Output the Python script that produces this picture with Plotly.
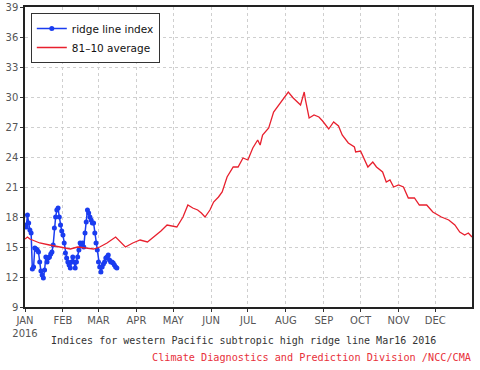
import plotly.graph_objects as go
import pandas as pd

# Observed ridge line index (daily, from 2016-01-01)
ridge_start = "2016-01-01"
ridge_values = [
    17.2, 17.0, 18.2, 17.4, 16.7, 16.4, 12.8, 13.0, 14.9, 14.8,
    14.7, 14.5, 13.5, 12.6, 12.2, 11.9, 12.7, 14.0, 13.5, 13.9,
    14.0, 14.3, 14.5, 15.2, 16.9, 18.0, 18.7, 18.9, 18.0, 17.2,
    16.6, 16.2, 15.4, 14.4, 13.9, 13.5, 13.2, 12.9, 13.5, 14.0,
    13.5, 12.9, 13.5, 14.0, 14.7, 15.4, 15.2, 15.4, 15.0, 16.4,
    17.5, 18.7, 18.4, 18.0, 17.7, 17.4, 17.4, 16.4, 15.4, 14.7,
    13.5, 13.0, 12.5, 13.0, 13.3, 13.5, 13.9, 14.0, 14.2, 13.7,
    13.5, 13.5, 13.4, 13.2, 13.0, 12.9,
]
ridge_dates = pd.date_range(ridge_start, periods=len(ridge_values), freq="D")

# 1981-2010 climatological average
avg_dates = [
    "2016-01-01", "2016-01-03", "2016-01-05", "2016-01-13", "2016-01-21", "2016-01-30",
    "2016-02-07", "2016-02-13", "2016-02-21", "2016-02-26", "2016-03-02", "2016-03-08",
    "2016-03-15", "2016-03-19", "2016-03-23", "2016-03-29", "2016-04-04", "2016-04-10",
    "2016-04-15", "2016-04-21", "2016-04-26", "2016-04-30", "2016-05-04", "2016-05-09",
    "2016-05-13", "2016-05-17", "2016-05-21", "2016-05-24", "2016-05-27", "2016-05-31",
    "2016-06-03", "2016-06-07", "2016-06-10", "2016-06-14", "2016-06-19", "2016-06-23",
    "2016-06-27", "2016-07-01", "2016-07-05", "2016-07-09", "2016-07-11", "2016-07-13",
    "2016-07-18", "2016-07-22", "2016-07-28", "2016-08-03", "2016-08-07", "2016-08-11",
    "2016-08-13", "2016-08-16", "2016-08-17", "2016-08-20", "2016-08-24", "2016-08-28",
    "2016-08-31", "2016-09-05", "2016-09-09", "2016-09-13", "2016-09-16", "2016-09-21",
    "2016-09-26", "2016-09-27", "2016-10-01", "2016-10-07", "2016-10-11", "2016-10-14",
    "2016-10-19", "2016-10-22", "2016-10-25", "2016-10-28", "2016-11-01", "2016-11-05",
    "2016-11-09", "2016-11-14", "2016-11-18", "2016-11-24", "2016-11-29", "2016-12-06",
    "2016-12-12", "2016-12-17", "2016-12-21", "2016-12-25", "2016-12-28", "2016-12-31",
]
avg_values = [
    15.8, 16.0, 15.8, 15.4, 15.2, 15.0,
    14.8, 15.0, 14.9, 14.8, 15.0, 15.4,
    16.0, 15.5, 15.0, 15.4, 15.7, 15.5,
    16.0, 16.6, 17.2, 17.1, 17.0, 18.0,
    19.2, 18.9, 18.7, 18.4, 18.0, 18.7,
    19.5, 20.0, 20.5, 22.0, 23.0, 23.0,
    23.9, 23.7, 24.9, 25.7, 25.2, 26.2,
    26.9, 28.5, 29.5, 30.5, 29.9, 29.4,
    29.2, 30.5, 29.7, 27.9, 28.2, 28.0,
    27.6, 26.8, 27.5, 27.1, 26.2, 25.4,
    25.0, 24.5, 24.6, 23.0, 23.5, 23.0,
    22.5, 21.5, 21.7, 21.0, 21.2, 21.0,
    19.9, 19.9, 19.2, 19.2, 18.5, 18.0,
    17.7, 17.2, 16.5, 16.2, 16.4, 16.0,
]

y_ticks = [9, 12, 15, 18, 21, 24, 27, 30, 33, 36, 39]
month_ticks = pd.date_range("2016-01-01", periods=12, freq="MS")
month_labels = ["JAN<br>2016", "FEB", "MAR", "APR", "MAY", "JUN",
                "JUL", "AUG", "SEP", "OCT", "NOV", "DEC"]

title_text = "Indices for western Pacific subtropic high ridge line Mar16 2016"
credit_text = "Climate Diagnostics and Prediction Division /NCC/CMA"

fig = go.Figure()
fig.add_trace(go.Scatter(
    x=ridge_dates, y=ridge_values, mode="lines+markers",
    name="ridge line index",
    line=dict(color="#1a3cf0", width=1.5),
    marker=dict(color="#1a3cf0", size=5),
))
fig.add_trace(go.Scatter(
    x=avg_dates, y=avg_values, mode="lines",
    name="81\u201310 average",
    line=dict(color="#e8202e", width=1.3),
))

tick_font = dict(family="DejaVu Sans, Liberation Sans, sans-serif", size=10, color="#555555")
mono = "DejaVu Sans Mono, Liberation Mono, monospace"

fig.update_layout(
    width=480, height=370,
    margin=dict(l=25, r=8, t=7, b=63),
    paper_bgcolor="white", plot_bgcolor="white",
    showlegend=True,
    legend=dict(
        x=0.013, y=0.98, xanchor="left", yanchor="top",
        bgcolor="white", bordercolor="#333333", borderwidth=1,
        font=dict(family="DejaVu Sans, sans-serif", size=10.5, color="#111111"),
        tracegroupgap=0, itemwidth=30,
    ),
    annotations=[
        dict(text=title_text, xref="paper", yref="paper", x=0.488, y=-0.113,
             xanchor="center", yanchor="middle", showarrow=False,
             font=dict(family=mono, size=10, color="#333333")),
        dict(text=credit_text, xref="paper", yref="paper", x=0.642, y=-0.167,
             xanchor="center", yanchor="middle", showarrow=False,
             font=dict(family=mono, size=10.2, color="#e8303a")),
    ],
)

fig.update_xaxes(
    range=["2016-01-01", "2016-12-31"], automargin=False,
    tickmode="array", tickvals=month_ticks, ticktext=month_labels,
    tickfont=tick_font, ticks="outside", ticklen=3, tickcolor="#333333",
    showline=True, linecolor="#222222", linewidth=1.5, mirror=True,
    showgrid=True, gridcolor="#cfcfcf", griddash="dot", gridwidth=1,
    zeroline=False,
)
fig.update_yaxes(
    range=[9, 39], tickmode="array", tickvals=y_ticks, automargin=False,
    tickfont=tick_font, ticks="outside", ticklen=3, tickcolor="#333333",
    showline=True, linecolor="#222222", linewidth=1.5, mirror=True,
    showgrid=True, gridcolor="#cfcfcf", griddash="dot", gridwidth=1,
    zeroline=False,
)

fig.write_html("out.html", config={"displayModeBar": False},
               post_script="document.body.style.margin='0';")
